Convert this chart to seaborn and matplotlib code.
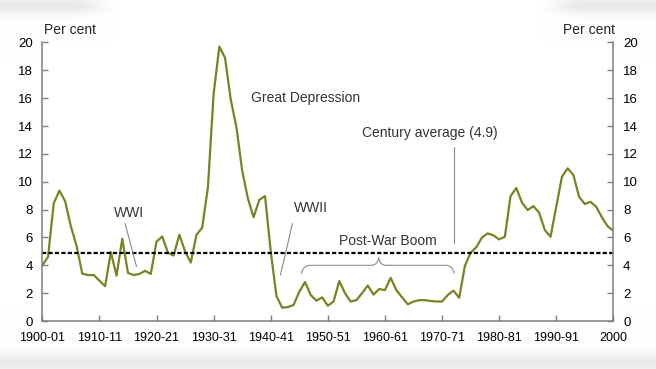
import matplotlib
matplotlib.use("Agg")
import matplotlib.pyplot as plt
import matplotlib.patches as mpatches
from matplotlib.path import Path
import numpy as np
import seaborn as sns

# Unemployment rate, per cent (financial years 1900-01 .. 2000)
years = list(range(1900, 2001))
unemployment = [
    4.0, 4.6, 8.45, 9.36, 8.6, 6.8, 5.4, 3.4, 3.3, 3.3,
    2.9, 2.5, 4.95, 3.26, 5.9, 3.45, 3.3, 3.38, 3.6, 3.38,
    5.7, 6.07, 4.9, 4.7, 6.2, 5.0, 4.2, 6.2, 6.7, 9.6,
    16.3, 19.7, 18.9, 15.9, 13.9, 10.8, 8.8, 7.45, 8.7, 8.97,
    5.0, 1.8, 0.96, 1.0, 1.15, 2.1, 2.8, 1.87, 1.46, 1.7,
    1.1, 1.4, 2.87, 2.0, 1.4, 1.5, 2.0, 2.55, 1.9, 2.3,
    2.22, 3.1, 2.22, 1.7, 1.2, 1.4, 1.5, 1.5, 1.44, 1.4,
    1.4, 1.87, 2.18, 1.67, 3.95, 4.9, 5.3, 6.0, 6.29, 6.15,
    5.86, 6.05, 8.97, 9.55, 8.5, 7.97, 8.25, 7.78, 6.53, 6.05,
    8.2, 10.36, 10.96, 10.48, 8.92, 8.4, 8.56, 8.2, 7.45, 6.8,
    6.48,
]
century_average = 4.9

tick_years = [1900, 1910, 1920, 1930, 1940, 1950, 1960, 1970, 1980, 1990, 2000]
tick_labels = ["1900-01", "1910-11", "1920-21", "1930-31", "1940-41", "1950-51",
               "1960-61", "1970-71", "1980-81", "1990-91", "2000"]
y_ticks = [0, 2, 4, 6, 8, 10, 12, 14, 16, 18, 20]

sns.set_theme(style="ticks")
plt.rcParams["font.family"] = ["Liberation Sans", "DejaVu Sans"]

line_color = "#7b8223"
axis_color = "#7f7f7f"
text_color = "#333333"

fig = plt.figure(figsize=(6.56, 3.69), dpi=100)

# soft grey shadow bands of the screenshot
bg = fig.add_axes([0, 0, 1, 1], zorder=-10)
h, w = 369, 656
yy, xx = np.mgrid[0:h, 0:w]
shade = np.zeros((h, w))
top = np.exp(-((yy - 5) / 9.0) ** 2)
top_mask = np.clip((115 - xx) / 40.0, 0, 1) + np.clip((xx - 540) / 40.0, 0, 1)
shade += 0.09 * top * np.clip(top_mask, 0, 1)
bottom = np.exp(-((yy - 362) / 10.0) ** 2)
shade += 0.08 * bottom
img = 1 - np.clip(shade, 0, 0.2)
bg.imshow(np.dstack([img, img, img]), aspect="auto", extent=[0, 1, 0, 1])
bg.axis("off")

ax = fig.add_axes([0.0645, 0.130, 0.8705, 0.755])
sns.lineplot(x=years, y=unemployment, ax=ax, color=line_color, linewidth=1.6)
ax.axhline(century_average, color="black", linewidth=1.6, dashes=(1.9, 1.0))

ax.set_xlim(1900, 2000)
ax.set_ylim(0, 20)
ax.set_xticks(tick_years)
ax.set_xticklabels(tick_labels)
ax.set_yticks(y_ticks)
ax.set_xlabel("")
ax.set_ylabel("")

for side in ["left", "bottom", "right"]:
    ax.spines[side].set_visible(True)
    ax.spines[side].set_color(axis_color)
    ax.spines[side].set_linewidth(1.1)
ax.spines["top"].set_visible(False)
ax.tick_params(axis="both", direction="in", length=4, width=1, color=axis_color,
               labelcolor="black")
ax.tick_params(axis="x", pad=8, labelsize=9)
ax.tick_params(axis="y", pad=7, labelsize=9.5, right=True, labelright=True)

ax.text(0.003, 1.045, "Per cent", transform=ax.transAxes, fontsize=10,
        ha="left", va="center")
ax.text(1.003, 1.045, "Per cent", transform=ax.transAxes, fontsize=10,
        ha="right", va="center")

# annotations
ax.text(1946.1, 16.0, "Great Depression", fontsize=10, ha="center", va="center",
        color=text_color)
ax.text(1915.2, 7.75, "WWI", fontsize=10, ha="center", va="center", color=text_color)
ax.plot([1914.5, 1916.5], [7.0, 3.9], color="#8a8a8a", linewidth=0.8)
ax.text(1947.0, 8.1, "WWII", fontsize=10, ha="center", va="center", color=text_color)
ax.plot([1943.8, 1941.7], [7.0, 3.3], color="#8a8a8a", linewidth=0.8)
ax.text(1967.8, 13.5, "Century average (4.9)", fontsize=10, ha="center",
        va="center", color=text_color)
ax.plot([1972.1, 1972.1], [12.5, 5.6], color="#8a8a8a", linewidth=0.8)
ax.text(1960.6, 5.75, "Post-War Boom", fontsize=10, ha="center", va="center",
        color=text_color)

# curly brace over the post-war years
verts = [(1945.4, 3.4), (1945.6, 4.0), (1947.0, 4.0), (1957.6, 4.0),
         (1958.7, 4.0), (1958.9, 4.55), (1959.1, 4.0), (1960.2, 4.0),
         (1970.6, 4.0), (1972.0, 4.0), (1972.1, 3.4)]
codes = [Path.MOVETO, Path.CURVE3, Path.CURVE3, Path.LINETO,
         Path.CURVE3, Path.CURVE3, Path.CURVE3, Path.CURVE3,
         Path.LINETO, Path.CURVE3, Path.CURVE3]
brace = mpatches.PathPatch(Path(verts, codes), facecolor="none",
                           edgecolor="#8a8a8a", linewidth=0.8)
ax.add_patch(brace)

fig.savefig("out.png", dpi=100)
